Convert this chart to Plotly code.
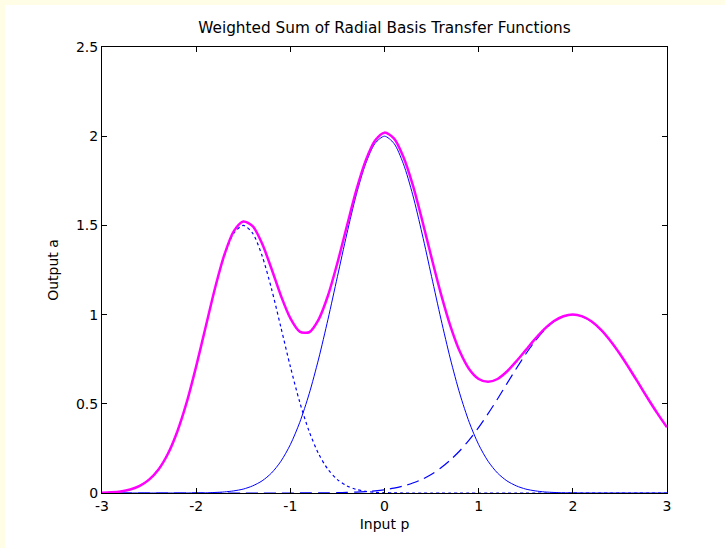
import plotly.graph_objects as go

p = [round(-3 + 0.1 * i, 1) for i in range(61)]

# centre basis (solid)
a_center = [0, 0, 0, 0, 0, 0, 0, 0, 0, 0,
            0.001, 0.001, 0.003, 0.006, 0.012, 0.022, 0.040, 0.068, 0.112, 0.178,
            0.271, 0.396, 0.556, 0.751, 0.974, 1.213, 1.452, 1.671, 1.846, 1.960,
            2.000,
            1.960, 1.846, 1.671, 1.452, 1.213, 0.974, 0.751, 0.556, 0.396, 0.271,
            0.178, 0.112, 0.068, 0.040, 0.022, 0.012, 0.006, 0.003, 0.001, 0.001,
            0, 0, 0, 0, 0, 0, 0, 0, 0, 0]

# left basis (dotted)
a_left = [0.002, 0.004, 0.009, 0.020, 0.040, 0.075, 0.132, 0.220, 0.345, 0.509,
          0.709, 0.928, 1.145, 1.330, 1.456, 1.500, 1.456, 1.330, 1.145, 0.928,
          0.709, 0.509, 0.345, 0.220, 0.132, 0.075, 0.040, 0.020, 0.009, 0.004,
          0.002, 0.001, 0, 0, 0, 0, 0, 0, 0, 0,
          0, 0, 0, 0, 0, 0, 0, 0, 0, 0,
          0, 0, 0, 0, 0, 0, 0, 0, 0, 0, 0]

# right basis (dashed)
a_right = [0, 0, 0, 0, 0, 0, 0, 0, 0, 0,
           0, 0, 0, 0, 0, 0, 0, 0, 0, 0,
           0, 0.0002, 0.0004, 0.0007, 0.0012, 0.002, 0.003, 0.005, 0.008, 0.012,
           0.018, 0.027, 0.039, 0.056, 0.077, 0.105, 0.141, 0.185, 0.237, 0.298,
           0.368, 0.445, 0.527, 0.613, 0.698, 0.779, 0.852, 0.914, 0.961, 0.990,
           1.000, 0.990, 0.961, 0.914, 0.852, 0.779, 0.698, 0.613, 0.527, 0.445,
           0.368]

# weighted sum (magenta)
a_sum = [0.002, 0.004, 0.009, 0.020, 0.040, 0.075, 0.132, 0.220, 0.345, 0.509,
         0.710, 0.929, 1.148, 1.336, 1.468, 1.522, 1.496, 1.398, 1.257, 1.106,
         0.980, 0.905, 0.901, 0.972, 1.107, 1.290, 1.495, 1.696, 1.863, 1.976,
         2.020, 1.988, 1.885, 1.727, 1.529, 1.318, 1.115, 0.936, 0.793, 0.694,
         0.639, 0.623, 0.639, 0.681, 0.738, 0.801, 0.864, 0.920, 0.964, 0.991,
         1.001, 0.990, 0.961, 0.914, 0.852, 0.779, 0.698, 0.613, 0.527, 0.445,
         0.368]

fig = go.Figure()
fig.add_trace(go.Scatter(x=p, y=a_center, mode="lines",
                         line=dict(color="#0000FF", width=1, shape="spline", smoothing=0.8),
                         showlegend=False))
fig.add_trace(go.Scatter(x=p, y=a_left, mode="lines",
                         line=dict(color="#0000FF", width=1.2, dash="dot", shape="spline", smoothing=0.8),
                         showlegend=False))
fig.add_trace(go.Scatter(x=p, y=a_right, mode="lines",
                         line=dict(color="#0000FF", width=1.2, dash="12px,6px", shape="spline", smoothing=0.8),
                         showlegend=False))
fig.add_trace(go.Scatter(x=p, y=a_sum, mode="lines",
                         line=dict(color="#FF00FF", width=2.5, shape="spline", smoothing=0.8),
                         showlegend=False))

W, H = 725, 548
L, R, T, B = 102, 58, 47, 55
pw, ph = W - L - R, H - T - B
cream = "#FFFDE6"

def px_to_paper_x(px):
    return (px - L) / pw

def px_to_paper_y(py):
    return (H - B - py) / ph

fig.add_shape(type="rect", xref="paper", yref="paper", layer="below",
              x0=px_to_paper_x(0), x1=px_to_paper_x(5),
              y0=px_to_paper_y(H), y1=px_to_paper_y(0),
              fillcolor=cream, line=dict(width=0))
fig.add_shape(type="rect", xref="paper", yref="paper", layer="below",
              x0=px_to_paper_x(0), x1=px_to_paper_x(W),
              y0=px_to_paper_y(5), y1=px_to_paper_y(0),
              fillcolor=cream, line=dict(width=0))

font = "DejaVu Sans, Arial, sans-serif"
fig.update_layout(
    width=W, height=H,
    margin=dict(l=L, r=R, t=T, b=B),
    paper_bgcolor="white", plot_bgcolor="white",
    font=dict(family=font, size=14, color="black"),
    title=dict(text="Weighted Sum of Radial Basis Transfer Functions",
               x=(L + pw / 2) / W, xanchor="center", y=1 - 28 / H, yanchor="middle",
               font=dict(size=15.3)),
    xaxis=dict(range=[-3, 3], tickvals=[-3, -2, -1, 0, 1, 2, 3],
               ticktext=["-3", "-2", "-1", "0", "1", "2", "3"],
               showgrid=False, zeroline=False, showline=True, linecolor="black",
               linewidth=1, mirror="ticks", ticks="inside", ticklen=5,
               tickcolor="black",
               title=dict(text="Input p", standoff=6, font=dict(size=14))),
    yaxis=dict(range=[0, 2.5], tickvals=[0, 0.5, 1, 1.5, 2, 2.5],
               ticktext=["0", "0.5", "1", "1.5", "2", "2.5"],
               showgrid=False, zeroline=False, showline=True, linecolor="black",
               linewidth=1, mirror="ticks", ticks="inside", ticklen=5,
               tickcolor="black",
               title=dict(text="Output a", standoff=14, font=dict(size=14))),
)

fig.write_html("out.html", config={"displayModeBar": False},
               post_script="document.body.style.margin='0';document.body.style.padding='0';")
